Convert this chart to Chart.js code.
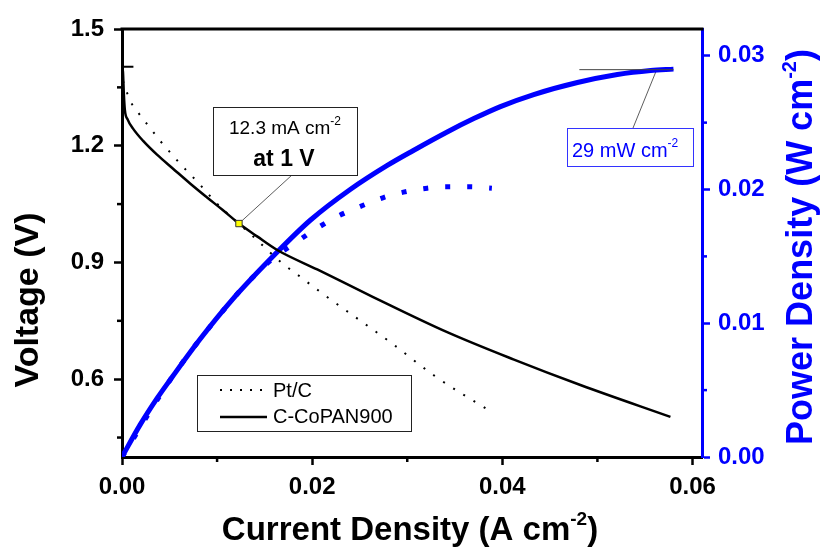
<!DOCTYPE html>
<html>
<head>
<meta charset="utf-8">
<script src="https://cdn.jsdelivr.net/npm/chart.js@4.4.0/dist/chart.umd.min.js"></script>
<style>
    html, body { margin: 0; padding: 0; background: #fff; }
</style>
</head>
<body>
<canvas id="chart" width="820" height="547"></canvas>
<script>
// Data

// C-CoPAN900 polarisation curve (A cm-2, V)
const copanJ = [0, 0.0001, 0.0002, 0.0003, 0.0006, 0.00116, 0.0022, 0.00368, 0.00537, 0.00716, 0.00895, 0.01053, 0.0123, 0.01421, 0.01632, 0.02053, 0.0261, 0.0342, 0.04116, 0.04821, 0.05768];
const copanV = [1.403, 1.39, 1.33, 1.292, 1.267, 1.244, 1.213, 1.177, 1.141, 1.103, 1.067, 1.036, 1.0, 0.967, 0.932, 0.882, 0.815, 0.721, 0.651, 0.585, 0.503];
// short flat piece at open circuit
const copanStubJ = [0, 0.0012];
const copanStubV = [1.403, 1.403];

// Pt/C polarisation curve
const ptcJ = [0, 0.0001, 0.0004, 0.0008, 0.0015, 0.0022, 0.0032, 0.004, 0.0051, 0.0061, 0.0072, 0.0082, 0.01, 0.0119, 0.0137, 0.0166, 0.0187, 0.0212, 0.0285, 0.0329, 0.0387];
const ptcV = [1.397, 1.369, 1.346, 1.318, 1.292, 1.269, 1.238, 1.213, 1.182, 1.154, 1.126, 1.1, 1.051, 1.008, 0.969, 0.903, 0.864, 0.818, 0.69, 0.608, 0.518];

// Power density curves (A cm-2, W cm-2)
const copanPowJ = [0, 0.0019, 0.0037, 0.0053, 0.0082, 0.0114, 0.0163, 0.0198, 0.024, 0.0279, 0.0306, 0.0342, 0.037, 0.0398, 0.0433, 0.0479, 0.0521, 0.0556, 0.058];
const copanPowP = [0, 0.0024, 0.0044, 0.006, 0.0088, 0.0116, 0.0153, 0.0177, 0.02, 0.0218, 0.0229, 0.0243, 0.0253, 0.0262, 0.0271, 0.028, 0.0286, 0.0289, 0.029];
const ptcPowJ = [0, 0.0053, 0.0114, 0.0137, 0.0158, 0.0182, 0.0205, 0.0227, 0.0253, 0.0275, 0.0296, 0.0321, 0.0342, 0.0366, 0.0389];
const ptcPowP = [0, 0.006, 0.0116, 0.0134, 0.0148, 0.016, 0.0171, 0.018, 0.0188, 0.0194, 0.0198, 0.0201, 0.0202, 0.0202, 0.0201];

// Marked points
const markJ = [0.0123];
const markV = [1.0];
const peakJ = [0.0481, 0.058];
const peakP = [0.02896, 0.02896];

// Ticks
const xMajor = [0, 0.02, 0.04, 0.06];
const xMinor = [0.01, 0.03, 0.05];
const yMajor = [0.6, 0.9, 1.2, 1.5];
const yMinor = [0.45, 0.75, 1.05, 1.35];
const y2Major = [0, 0.01, 0.02, 0.03];
const y2Minor = [0.005, 0.015, 0.025];

const BLUE = '#0000ff';
const FONT = "'Liberation Sans', Arial, sans-serif";

const pts = (xs, ys) => xs.map((x, i) => ({ x: x, y: ys[i] }));

/**
 * Draw text made of parts [text, font, rise], left or centred on x
 */
function richText(ctx, parts, x, y, align) {
    let total = 0;
    parts.forEach(p => {
        ctx.font = p[1];
        total += ctx.measureText(p[0]).width;
    });
    let cx = align === 'center' ? x - total / 2 : x;
    ctx.textAlign = 'left';
    ctx.textBaseline = 'alphabetic';
    parts.forEach(p => {
        ctx.font = p[1];
        ctx.fillText(p[0], cx, y - (p[2] || 0));
        cx += ctx.measureText(p[0]).width;
    });
}

function line(ctx, x1, y1, x2, y2, color, width, dash) {
    ctx.save();
    ctx.strokeStyle = color;
    ctx.lineWidth = width;
    ctx.setLineDash(dash || []);
    ctx.beginPath();
    ctx.moveTo(x1, y1);
    ctx.lineTo(x2, y2);
    ctx.stroke();
    ctx.restore();
}

const decor = {
    id: 'decor',
    beforeDatasetsDraw(chart) {
        const ctx = chart.ctx;
        const sx = chart.scales.x, sy = chart.scales.y, s2 = chart.scales.y2;
        // leader lines
        line(ctx, sx.getPixelForValue(markJ[0]), sy.getPixelForValue(markV[0]), 292, 175, '#333', 0.8);
        line(ctx, 633, 128, sx.getPixelForValue(0.0562), s2.getPixelForValue(0.0289), '#333', 0.8);
    },
    afterDraw(chart) {
        const ctx = chart.ctx;
        const a = chart.chartArea;
        const sx = chart.scales.x, sy = chart.scales.y, s2 = chart.scales.y2;

        // top frame
        line(ctx, a.left - 1.5, a.top, a.right + 1.5, a.top, '#000', 3);

        // minor ticks
        xMinor.forEach(v => {
            const px = sx.getPixelForValue(v);
            line(ctx, px, a.bottom, px, a.bottom + 5, '#000', 2.5);
        });
        yMinor.forEach(v => {
            const py = sy.getPixelForValue(v);
            line(ctx, a.left, py, a.left - 5, py, '#000', 2.5);
        });
        y2Minor.forEach(v => {
            const py = s2.getPixelForValue(v);
            line(ctx, a.right, py, a.right + 5, py, BLUE, 2.5);
        });

        // annotation box at 1 V
        ctx.save();
        ctx.fillStyle = '#fff';
        ctx.fillRect(213, 107, 144, 68);
        ctx.strokeStyle = '#222';
        ctx.lineWidth = 1;
        ctx.strokeRect(213.5, 107.5, 144, 68);
        ctx.fillStyle = '#000';
        richText(ctx, [['12.3 mA cm', `19px ${FONT}`], ['-2', `12px ${FONT}`, 9]], 285, 134, 'center');
        richText(ctx, [['at 1 V', `bold 23px ${FONT}`]], 284, 166, 'center');
        ctx.restore();

        // annotation box at max power
        ctx.save();
        ctx.fillStyle = '#fff';
        ctx.fillRect(567, 128, 126, 38);
        ctx.strokeStyle = '#3333ff';
        ctx.lineWidth = 1;
        ctx.strokeRect(567.5, 128.5, 126, 38);
        ctx.fillStyle = BLUE;
        richText(ctx, [['29 mW cm', `20px ${FONT}`], ['-2', `12px ${FONT}`, 10]], 572, 157, 'left');
        ctx.restore();

        // legend
        ctx.save();
        ctx.strokeStyle = '#222';
        ctx.lineWidth = 1;
        ctx.strokeRect(197.5, 375.5, 214, 56);
        line(ctx, 220, 390, 268, 390, '#000', 2, [2, 8]);
        line(ctx, 220, 417, 267, 417, '#000', 2.5);
        ctx.fillStyle = '#000';
        ctx.font = `20px ${FONT}`;
        ctx.textAlign = 'left';
        ctx.textBaseline = 'middle';
        ctx.fillText('Pt/C', 273, 391);
        ctx.fillText('C-CoPAN900', 273, 417);
        ctx.restore();

        // axis titles
        ctx.save();
        ctx.fillStyle = '#000';
        richText(ctx, [['Current Density (A cm', `bold 33px ${FONT}`], ['-2', `bold 19px ${FONT}`, 15], [')', `bold 33px ${FONT}`]], 410, 540, 'center');
        ctx.translate(38, 300);
        ctx.rotate(-Math.PI / 2);
        richText(ctx, [['Voltage (V)', `bold 34px ${FONT}`]], 0, 0, 'center');
        ctx.restore();

        ctx.save();
        ctx.fillStyle = BLUE;
        ctx.translate(812, 247);
        ctx.rotate(-Math.PI / 2);
        richText(ctx, [['Power Density (W cm', `bold 36px ${FONT}`], ['-2', `bold 20px ${FONT}`, 16], [')', `bold 36px ${FONT}`]], 0, 0, 'center');
        ctx.restore();
    }
};

const tickFont = { family: FONT, size: 24, weight: 'bold' };

const config = {
    type: 'line',
    data: {
        datasets: [
            {
                label: 'marker',
                data: pts(markJ, markV),
                yAxisID: 'y',
                showLine: false,
                pointStyle: 'rect',
                pointRadius: 4.5,
                pointBackgroundColor: '#ffff00',
                pointBorderColor: '#333',
                pointBorderWidth: 1
            },
            {
                label: 'C-CoPAN900',
                data: pts(copanJ, copanV),
                yAxisID: 'y',
                borderColor: '#000',
                borderWidth: 2.5,
                pointRadius: 0,
                cubicInterpolationMode: 'monotone'
            },
            {
                label: 'C-CoPAN900 start',
                data: pts(copanStubJ, copanStubV),
                yAxisID: 'y',
                borderColor: '#000',
                borderWidth: 2,
                pointRadius: 0
            },
            {
                label: 'Pt/C',
                data: pts(ptcJ, ptcV),
                yAxisID: 'y',
                borderColor: '#000',
                borderWidth: 2,
                borderDash: [2, 10],
                pointRadius: 0,
                cubicInterpolationMode: 'monotone'
            },
            {
                label: 'peak',
                data: pts(peakJ, peakP),
                yAxisID: 'y2',
                borderColor: '#444',
                borderWidth: 1,
                pointRadius: 0
            },
            {
                label: 'C-CoPAN900 power',
                data: pts(copanPowJ, copanPowP),
                yAxisID: 'y2',
                borderColor: BLUE,
                borderWidth: 5,
                pointRadius: 0,
                cubicInterpolationMode: 'monotone'
            },
            {
                label: 'Pt/C power',
                data: pts(ptcPowJ, ptcPowP),
                yAxisID: 'y2',
                borderColor: BLUE,
                borderWidth: 5,
                borderDash: [5, 17],
                pointRadius: 0,
                cubicInterpolationMode: 'monotone'
            }
        ]
    },
    options: {
        responsive: false,
        animation: false,
        devicePixelRatio: 1,
        layout: { padding: { top: 29, left: 0, right: 0, bottom: 0 } },
        plugins: {
            legend: { display: false },
            tooltip: { enabled: false }
        },
        scales: {
            x: {
                type: 'linear',
                position: 'bottom',
                min: 0,
                max: 0.061,
                afterBuildTicks: s => { s.ticks = xMajor.map(v => ({ value: v })); },
                afterFit: s => { s.height = 90; },
                ticks: {
                    color: '#000',
                    font: tickFont,
                    padding: 8,
                    maxRotation: 0,
                    autoSkip: false,
                    callback: v => v.toFixed(2)
                },
                grid: { drawOnChartArea: false, tickLength: 8, tickWidth: 2.5, tickColor: '#000' },
                border: { color: '#000', width: 3 }
            },
            y: {
                type: 'linear',
                position: 'left',
                min: 0.4,
                max: 1.5,
                afterBuildTicks: s => { s.ticks = yMajor.map(v => ({ value: v })); },
                afterFit: s => { s.width = 122; },
                ticks: {
                    color: '#000',
                    font: tickFont,
                    padding: 10,
                    autoSkip: false,
                    callback: v => v.toFixed(1)
                },
                grid: { drawOnChartArea: false, tickLength: 8, tickWidth: 2.5, tickColor: '#000' },
                border: { color: '#000', width: 3 }
            },
            y2: {
                type: 'linear',
                position: 'right',
                min: 0,
                max: 0.032,
                afterBuildTicks: s => { s.ticks = y2Major.map(v => ({ value: v })); },
                afterFit: s => { s.width = 118; },
                ticks: {
                    color: BLUE,
                    font: tickFont,
                    padding: 8,
                    autoSkip: false,
                    callback: v => v.toFixed(2)
                },
                grid: { drawOnChartArea: false, tickLength: 8, tickWidth: 2.5, tickColor: BLUE },
                border: { color: BLUE, width: 3 }
            }
        }
    },
    plugins: [decor]
};

new Chart(document.getElementById('chart').getContext('2d'), config);
</script>
</body>
</html>
